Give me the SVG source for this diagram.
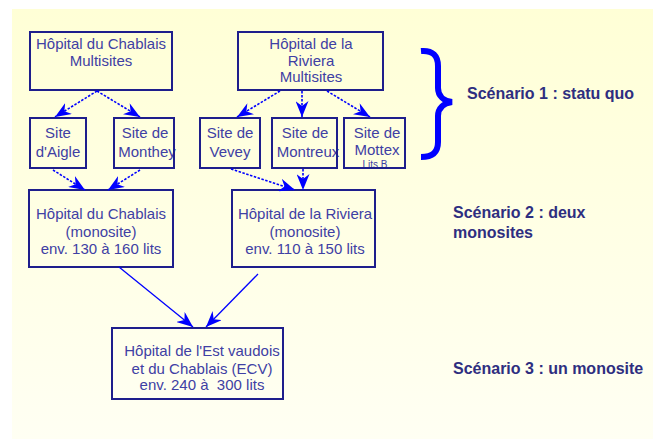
<svg xmlns="http://www.w3.org/2000/svg" width="653" height="439" viewBox="0 0 653 439">
  <defs>
    <linearGradient id="bg" x1="0" y1="0" x2="0" y2="1">
      <stop offset="0" stop-color="#FFFFD6"/>
      <stop offset="1" stop-color="#FFFFF3"/>
    </linearGradient>
    <marker id="ah" viewBox="0 0 16 13" refX="16" refY="6.5" markerWidth="16" markerHeight="13" orient="auto" markerUnits="userSpaceOnUse">
      <path d="M0,0 L16,6.5 L0,13 L5,6.5 z" fill="#0000FF"/>
    </marker>
    <style>
      .box { fill: none; stroke: #1E1E8C; stroke-width: 2; }
      .t { font-family: "Liberation Sans", Arial, sans-serif; font-size: 15px; fill: #4040A4; text-anchor: middle; }
      .ts { font-family: "Liberation Sans", Arial, sans-serif; font-size: 10px; fill: #4040A4; text-anchor: middle; }
      .lab { font-family: "Liberation Sans", Arial, sans-serif; font-size: 16px; font-weight: bold; fill: #2E2E80; }
      .c { fill: none; stroke: #0000FF; stroke-width: 1.6; stroke-dasharray: 2.5 1.5; marker-end: url(#ah); }
      .c2 { fill: none; stroke: #0000FF; stroke-width: 1.3; marker-end: url(#ah); }
    </style>
  </defs>

  <rect x="12" y="9" width="641" height="430" fill="url(#bg)"/>

  <g id="chablais-multisites">
    <text class="t" x="101" y="49">Hôpital du Chablais</text>
    <text class="t" x="101" y="66">Multisites</text>
    <rect class="box" x="30" y="32" width="142" height="58"/>
  </g>
  <g id="riviera-multisites">
    <text class="t" x="311" y="49">Hôpital de la</text>
    <text class="t" x="311" y="66">Riviera</text>
    <text class="t" x="311" y="82">Multisites</text>
    <rect class="box" x="238" y="32" width="145" height="58"/>
  </g>
  <g id="site-aigle">
    <text class="t" x="58" y="138">Site</text>
    <text class="t" x="58" y="157">d'Aigle</text>
    <rect class="box" x="30" y="118" width="56" height="50"/>
  </g>
  <g id="site-monthey">
    <text class="t" x="145" y="138">Site de</text>
    <text class="t" x="147" y="157">Monthey</text>
    <rect class="box" x="114" y="118" width="60" height="50"/>
  </g>
  <g id="site-vevey">
    <text class="t" x="230" y="138">Site de</text>
    <text class="t" x="230" y="157">Vevey</text>
    <rect class="box" x="200" y="118" width="60" height="50"/>
  </g>
  <g id="site-montreux">
    <text class="t" x="305" y="138">Site de</text>
    <text class="t" x="308" y="157">Montreux</text>
    <rect class="box" x="272" y="118" width="65" height="50"/>
  </g>
  <g id="site-mottex">
    <text class="t" x="377" y="138">Site de</text>
    <text class="t" x="377" y="155">Mottex</text>
    <text class="ts" x="375" y="168">Lits B</text>
    <rect class="box" x="344" y="118" width="61" height="50"/>
  </g>
  <g id="chablais-monosite">
    <text class="t" x="101" y="219">Hôpital du Chablais</text>
    <text class="t" x="101" y="237">(monosite)</text>
    <text class="t" x="101" y="254">env. 130 à 160 lits</text>
    <rect class="box" x="29" y="190" width="144" height="77"/>
  </g>
  <g id="riviera-monosite">
    <text class="t" x="305" y="219">Hôpital de la Riviera</text>
    <text class="t" x="305" y="237">(monosite)</text>
    <text class="t" x="305" y="254">env. 110 à 150 lits</text>
    <rect class="box" x="232" y="190" width="143" height="77"/>
  </g>
  <g id="ecv">
    <text class="t" x="202" y="356">Hôpital de l'Est vaudois</text>
    <text class="t" x="202" y="374">et du Chablais (ECV)</text>
    <text class="t" x="202" y="390" xml:space="preserve">env. 240 à  300 lits</text>
    <rect class="box" x="112" y="328" width="171" height="71"/>
  </g>

  <g id="connectors">
    <line class="c" x1="97" y1="91" x2="55" y2="117"/>
    <line class="c" x1="97" y1="91" x2="140" y2="117"/>
    <line class="c" x1="53" y1="170" x2="85" y2="190"/>
    <line class="c" x1="140" y1="170" x2="108" y2="190"/>
    <line class="c" x1="280" y1="91" x2="237" y2="117"/>
    <line class="c" x1="302" y1="91" x2="302" y2="117"/>
    <line class="c" x1="327" y1="91" x2="370" y2="117"/>
    <line class="c" x1="231" y1="169" x2="295" y2="190"/>
    <line class="c" x1="303" y1="169" x2="303" y2="190"/>
    <line class="c2" x1="119" y1="267" x2="193" y2="327"/>
    <line class="c2" x1="258" y1="274" x2="206" y2="327"/>
  </g>

  <g id="brace">
    <path d="M421,51 C433,50 438,56 438,66 L438,88 C438,96 444,101 452,102 C444,103 438,108 438,116 L438,142 C438,152 433,157 421,157" fill="none" stroke="#0000FF" stroke-width="6"/>
  </g>

  <g id="labels">
    <text class="lab" x="467" y="98.5">Scénario 1 : statu quo</text>
    <text class="lab" x="453" y="218">Scénario 2 : deux</text>
    <text class="lab" x="453" y="238">monosites</text>
    <text class="lab" x="453" y="374">Scénario 3 : un monosite</text>
  </g>
</svg>
